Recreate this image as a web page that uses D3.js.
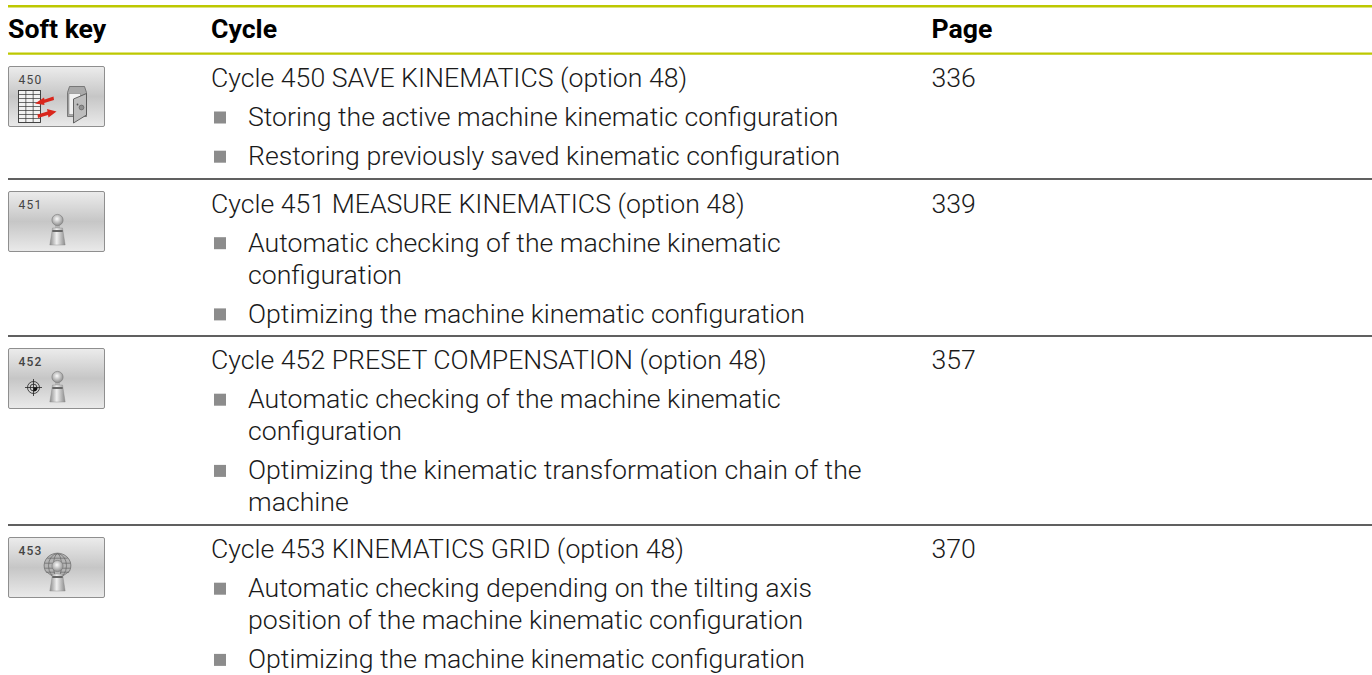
<!DOCTYPE html>
<html>
<head>
<meta charset="utf-8">
<script src="https://cdn.jsdelivr.net/npm/d3@7"></script>
<style>
  body { margin: 0; background: #fff; }
  text { font-family: Roboto, sans-serif; fill: #1a1a1a; }
  .head { font-weight: 700; font-size: 26.67px; fill: #000; }
  .body { font-weight: 300; font-size: 26.67px; }
</style>
</head>
<body>
<div id="vis"></div>
<script>
const softKeys = ["450", "451", "452", "453"];
const cycles = [
    "Cycle 450 SAVE KINEMATICS (option 48)",
    "Cycle 451 MEASURE KINEMATICS (option 48)",
    "Cycle 452 PRESET COMPENSATION (option 48)",
    "Cycle 453 KINEMATICS GRID (option 48)"
];
const pages = ["336", "339", "357", "370"];
// each bullet is a list of wrapped lines
const bullets = [
    [["Storing the active machine kinematic configuration"],
     ["Restoring previously saved kinematic configuration"]],
    [["Automatic checking of the machine kinematic", "configuration"],
     ["Optimizing the machine kinematic configuration"]],
    [["Automatic checking of the machine kinematic", "configuration"],
     ["Optimizing the kinematic transformation chain of the", "machine"]],
    [["Automatic checking depending on the tilting axis", "position of the machine kinematic configuration"],
     ["Optimizing the machine kinematic configuration"]]
];
const headers = ["Soft key", "Cycle", "Page"];

const width = 1372, height = 675;
const lineH = 32;     // wrapped line
const paraGap = 39.2; // title to bullet, bullet to bullet

const svg = d3.select("#vis").append("svg")
    .attr("width", width).attr("height", height)
    .style("display", "block");

const defs = svg.append("defs");
const grad = defs.append("linearGradient").attr("id", "key").attr("x1", 0).attr("x2", 0).attr("y1", 0).attr("y2", 1);
grad.append("stop").attr("offset", "0%").attr("stop-color", "#ececec");
grad.append("stop").attr("offset", "50%").attr("stop-color", "#c6c6c6");
grad.append("stop").attr("offset", "100%").attr("stop-color", "#eaeaea");
const coneGrad = defs.append("linearGradient").attr("id", "cone");
coneGrad.append("stop").attr("offset", "0%").attr("stop-color", "#8c8c8c");
coneGrad.append("stop").attr("offset", "45%").attr("stop-color", "#f0f0f0");
coneGrad.append("stop").attr("offset", "100%").attr("stop-color", "#8a8a8a");
const ballGrad = defs.append("radialGradient").attr("id", "ball").attr("cx", "45%").attr("cy", "40%").attr("r", "60%");
ballGrad.append("stop").attr("offset", "0%").attr("stop-color", "#fbfbfb");
ballGrad.append("stop").attr("offset", "100%").attr("stop-color", "#8f8f8f");

// columns and rows
const colX = d3.scaleOrdinal().domain(headers).range([8, 211, 931.5]);
const rowRule = d3.scaleOrdinal().domain(softKeys).range([53.6, 179, 336, 525]);
const rowBase = d3.scaleOrdinal().domain(softKeys).range([86.8, 212.5, 369, 558]);

// rules
const rule = (y, color, w) => svg.append("line")
    .attr("x1", 8).attr("x2", 1372).attr("y1", y).attr("y2", y)
    .attr("stroke", color).attr("stroke-width", w);
rule(6.2, "#bdc800", 2.4);
rule(53.6, "#bdc800", 2.4);
softKeys.slice(1).forEach(k => rule(rowRule(k), "#2b2b2b", 1.6));

svg.selectAll(".head").data(headers).enter().append("text")
    .attr("class", "head")
    .attr("x", d => colX(d))
    .attr("y", 38)
    .text(d => d);

softKeys.forEach((key, i) => {
    const g = svg.append("g").attr("class", "row");
    const base = rowBase(key);
    g.append("text").attr("class", "body").attr("x", colX("Cycle")).attr("y", base).text(cycles[i]);
    g.append("text").attr("class", "body").attr("x", colX("Page")).attr("y", base).text(pages[i]);

    let y = base;
    bullets[i].forEach(lines => {
        y += paraGap;
        g.append("rect").attr("x", 214).attr("y", y - 14.5).attr("width", 12).attr("height", 12).attr("fill", "#8c8c8c");
        lines.forEach((l, n) => {
            if (n > 0) y += lineH;
            g.append("text").attr("class", "body").attr("x", 248).attr("y", y).text(l);
        });
    });

    softKey(g.append("g").attr("transform", `translate(8.5,${Math.round(rowRule(key) + 13) - 0.5})`), key);
});

function softKey(g, key) {
    g.append("rect").attr("width", 96).attr("height", 60).attr("rx", 1.5)
        .attr("fill", "url(#key)").attr("stroke", "#8f8f8f").attr("stroke-width", 1);
    g.append("text").attr("x", 10).attr("y", 17).attr("font-size", 12).attr("letter-spacing", 1.2)
        .attr("font-weight", key === "450" || key === "451" ? 400 : 500)
        .style("fill", "#444").text(key);

    if (key === "450") { table(g); safe(g); return; }
    if (key === "453") dome(g, 49, 28.7);
    probe(g, 49, 31.5);
    if (key === "452") target(g, 25, 39);
}

function probe(g, x, y) {
    g.append("rect").attr("x", x - 2.5).attr("y", y + 1).attr("width", 5).attr("height", 6).attr("fill", "#b5b5b5");
    g.append("circle").attr("cx", x).attr("cy", y - 3).attr("r", 5.6)
        .attr("fill", "url(#ball)").attr("stroke", "#777").attr("stroke-width", .6);
    g.append("path").attr("d", `M${x - 5} ${y + 5}L${x + 5} ${y + 5}L${x + 7.7} ${y + 22}L${x - 7.7} ${y + 22}Z`)
        .attr("fill", "url(#cone)").attr("stroke", "#888").attr("stroke-width", .4);
    g.append("rect").attr("x", x - 5.2).attr("y", y + 7).attr("width", 10.4).attr("height", 2).attr("fill", "#666");
}

function dome(g, x, y) {
    const d = g.append("g").attr("fill", "none").attr("stroke", "#666").attr("stroke-width", .7);
    d.append("path").attr("d", `M${x - 12} ${y + 5}A13.4 12.5 0 1 1 ${x + 12} ${y + 5}L${x + 5} ${y + 10}L${x - 5} ${y + 10}Z`)
        .attr("fill", "#b4b4b4");
    [-8, -3, 2, 6].forEach(o => {
        const w = Math.sqrt(Math.max(0, 1 - (o * o) / 156)) * 13.2;
        d.append("line").attr("x1", x - w).attr("x2", x + w).attr("y1", y + o).attr("y2", y + o);
    });
    [4, 9].forEach(o => d.append("ellipse").attr("cx", x).attr("cy", y - 0.5).attr("rx", o).attr("ry", 12));
}

function target(g, x, y) {
    const t = g.append("g").attr("fill", "none").attr("stroke", "#222").attr("stroke-width", .8);
    t.append("circle").attr("cx", x).attr("cy", y).attr("r", 6);
    t.append("circle").attr("cx", x).attr("cy", y).attr("r", 3.4);
    t.append("line").attr("x1", x - 8.5).attr("x2", x + 8.5).attr("y1", y).attr("y2", y);
    t.append("line").attr("x1", x).attr("x2", x).attr("y1", y - 8.5).attr("y2", y + 8.5);
    g.append("path").attr("d", `M${x} ${y}L${x + 4} ${y}A4 4 0 0 1 ${x} ${y + 4}Z`).attr("fill", "#111");
}

function table(g) {
    const t = g.append("g").attr("stroke", "#333").attr("stroke-width", .7);
    t.append("rect").attr("x", 10).attr("y", 24).attr("width", 22).attr("height", 32).attr("fill", "#f2f2f2");
    d3.range(0, 4).forEach(c => t.append("line").attr("x1", 10 + c * 7.33).attr("x2", 10 + c * 7.33).attr("y1", 24).attr("y2", 56));
    d3.range(0, 9).forEach(l => t.append("line").attr("x1", 10).attr("x2", 32).attr("y1", 24 + l * 4).attr("y2", 24 + l * 4));
    g.append("path").attr("d", "M45 30L36 33L35.5 31L26.5 37L36 38.5L35.7 36.5L45.5 33.5Z").attr("fill", "#d9261c");
    g.append("path").attr("d", "M29 48L39 45L38.5 42.5L48 45L40 51L39.5 48.5L29.5 51.5Z").attr("fill", "#d9261c");
}

function safe(g) {
    g.append("path").attr("d", "M59 26L61 20L76 20L78 26L78 50L59 50Z").attr("fill", "#a9a9a9").attr("stroke", "#666").attr("stroke-width", .8);
    g.append("path").attr("d", "M60.5 27L72 27L72 48L60.5 48Z").attr("fill", "#f2f2f2").attr("stroke", "#777").attr("stroke-width", .5);
    g.append("path").attr("d", "M65 32.5L78 27L78 48.5L65 56.5Z").attr("fill", "#bdbdbd").attr("stroke", "#555").attr("stroke-width", .9);
    g.append("circle").attr("cx", 73).attr("cy", 41).attr("r", 2.4).attr("fill", "#8f8f8f").attr("stroke", "#555").attr("stroke-width", .6);
    g.append("circle").attr("cx", 69).attr("cy", 38).attr("r", .9).attr("fill", "#555");
}
</script>
</body>
</html>
